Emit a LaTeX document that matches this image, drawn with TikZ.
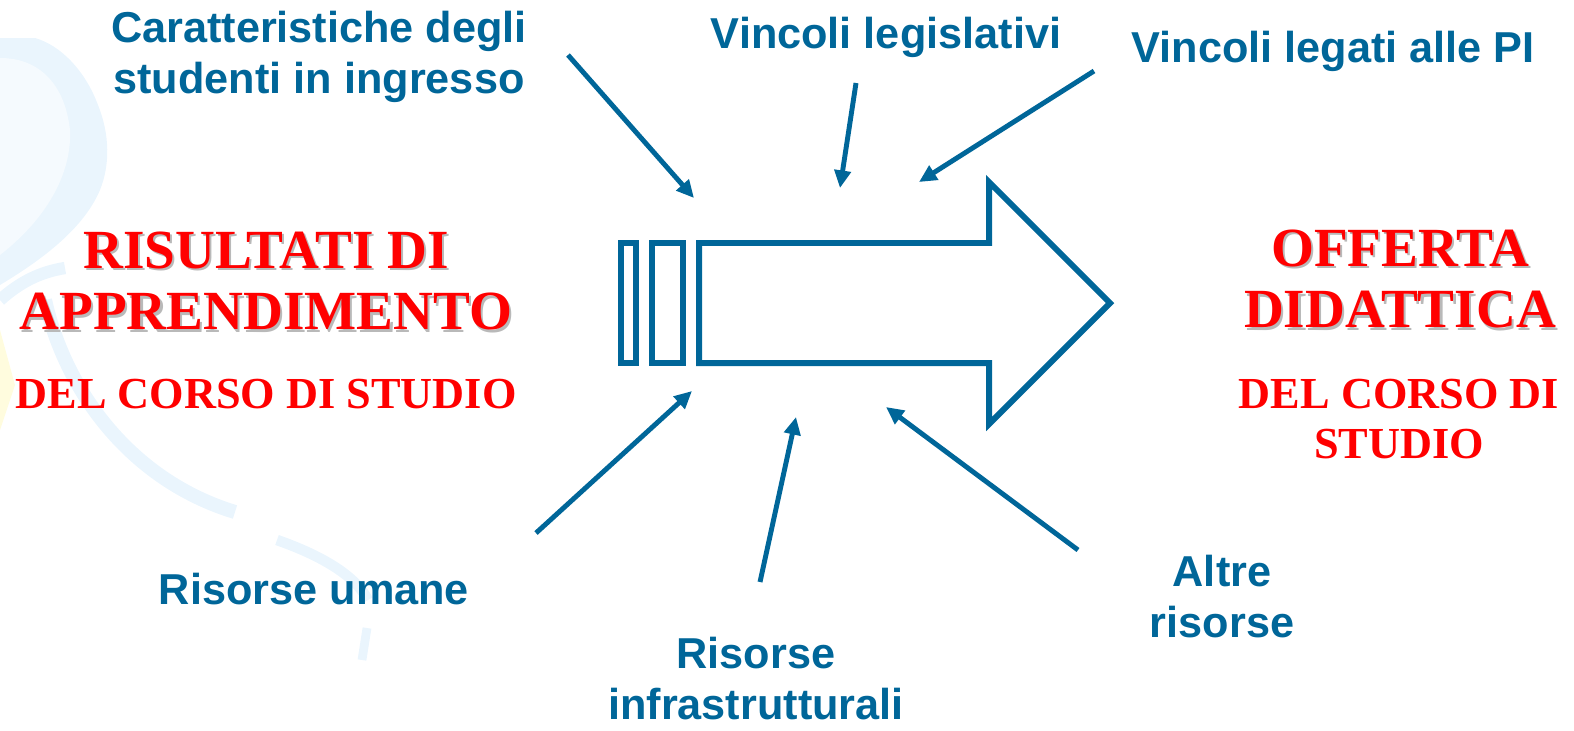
\documentclass[tikz,border=0pt]{standalone}
\usepackage{fontspec}
\setmainfont{Liberation Serif}
\newfontfamily\labelfont{Liberation Sans}
\usetikzlibrary{arrows.meta}
\definecolor{rblue}{RGB}{0,102,153}
\definecolor{shadowgray}{RGB}{185,185,185}
\definecolor{bgblue}{RGB}{234,245,253}
\definecolor{bglight}{RGB}{245,250,254}
\definecolor{bgyellow}{RGB}{255,252,222}
\tikzset{lbl/.style={text=rblue, inner sep=0pt, align=center,
   font=\labelfont\bfseries\fontsize{12.3}{14.5}\selectfont}}
\tikzset{ttl/.style={text=red, inner sep=0pt, align=center,
   font=\bfseries\fontsize{15.7}{17.6}\selectfont}}
\tikzset{sub/.style={text=red, inner sep=0pt, align=center,
   font=\bfseries\fontsize{12.6}{14.2}\selectfont}}
\tikzset{infl/.style={draw=rblue, line width=1.4pt, -{Triangle[length=5pt,width=4.6pt]}}}
\tikzset{blk/.style={draw=rblue, line width=1.7pt}}
% red title with a grey shadow behind it
\newcommand{\redtext}[4]{%
  \node[#1, text=shadowgray, xshift=0.6pt, yshift=-0.6pt] at (#2) {#4};
  \node[#1] (#3) at (#2) {#4};}

\begin{document}
\begin{tikzpicture}[x=0.01cm, y=-0.01cm]

    \useasboundingbox (0,0) rectangle (1574,730);

    % background
    \fill[bgblue] (0,38) -- (35,38) .. controls (60,45) and (85,70) .. (98,105)
      .. controls (110,135) and (110,165) .. (100,190)
      .. controls (85,225) and (50,255) .. (0,285) -- cycle;
    \fill[bglight] (0,58) .. controls (40,58) and (65,85) .. (70,130)
      .. controls (72,175) and (45,220) .. (0,255) -- cycle;
    \fill[bgyellow] (0,330) -- (15,385) -- (0,430) -- cycle;
    \draw[bgblue, line width=3.5pt] (0,300) .. controls (20,282) and (40,272) .. (65,268);
    \draw[bgblue, line width=4pt] (45,300) .. controls (65,390) and (130,480) .. (235,512);
    \draw[bgblue, line width=3pt] (277,540) .. controls (320,555) and (355,575) .. (368,600);
    \draw[bgblue, line width=2.5pt] (367,628) -- (362,660);

    % labels
    \node[lbl] (car) at (319,57) {Caratteristiche degli\\studenti in ingresso};
    \node[lbl] (leg) at (886,37) {Vincoli legislativi};
    \node[lbl] (pi)  at (1333,51) {Vincoli legati alle PI};
    \node[lbl] (uma) at (314,589) {Risorse umane};
    \node[lbl] (inf) at (756,679) {Risorse\\infrastrutturali};
    \node[lbl] (alt) at (1222,597) {Altre\\risorse};

    \redtext{ttl}{266,281}{ris}{RISULTATI DI\\APPRENDIMENTO}
    \redtext{ttl}{1400,279}{off}{OFFERTA\\DIDATTICA}
    \node[sub] (cds) at (266,394) {DEL CORSO DI STUDIO};
    \node[sub] (cds2) at (1399,419) {DEL CORSO DI\\STUDIO};

    % block arrow
    \draw[blk] (621,243) rectangle (636,363);
    \draw[blk] (652,243) rectangle (683,363);
    \draw[blk] (699,243) -- (989,243) -- (989,182) -- (1110,303)
      -- (989,424) -- (989,363) -- (699,363) -- cycle;

    % influences
    \coordinate (a1s) at (568,55);   \coordinate (a1e) at (694,198);
    \coordinate (a2s) at (856,83);   \coordinate (a2e) at (840,188);
    \coordinate (a3s) at (1094,71);  \coordinate (a3e) at (919,182);
    \coordinate (a4s) at (536,533);  \coordinate (a4e) at (692,391);
    \coordinate (a5s) at (760,582);  \coordinate (a5e) at (796,417);
    \coordinate (a6s) at (1078,550); \coordinate (a6e) at (886,407);

    \foreach \i in {1,...,6}
      \draw[infl] (a\i s) -- (a\i e);

  \end{tikzpicture}
\end{document}
